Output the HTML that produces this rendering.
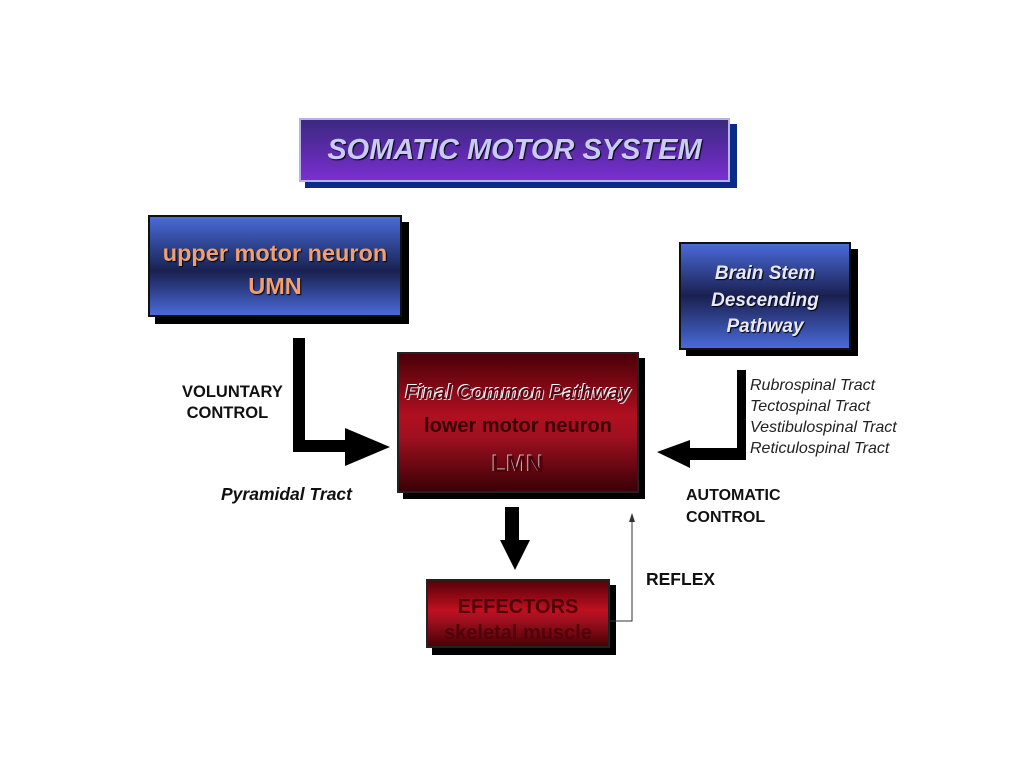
<!DOCTYPE html>
<html><head><style>
body{margin:0;width:1024px;height:767px;background:#fff;position:relative;overflow:hidden;font-family:"Liberation Sans",sans-serif}
.b{position:absolute;box-sizing:border-box;text-align:center;font-weight:bold;white-space:nowrap}
.sh{position:absolute;background:#000}
.t{position:absolute;font-weight:bold;color:#111;white-space:nowrap}
</style></head><body>
<div class="sh" style="left:305px;top:124px;width:432px;height:64px;background:#0a2a8a"></div>
<div class="b" style="left:299px;top:118px;width:431px;height:64px;border:2px solid #b8b0e8;background:linear-gradient(#3a2a80,#5a2aa8 50%,#7a30d0);color:#c8ccf4;font-style:italic;font-size:29px;line-height:60px;text-shadow:1px 1px 1px #000">SOMATIC MOTOR SYSTEM</div>

<div class="sh" style="left:155px;top:222px;width:254px;height:102px"></div>
<div class="b" style="left:148px;top:215px;width:254px;height:102px;border:2px solid #111;background:linear-gradient(#4a6ad8,#20306a 45%,#1a2050 55%,#4a6ad8);color:#f0a070;font-size:23.5px;line-height:33px;padding-top:20px;text-shadow:1px 1px 1px #000">upper motor neuron<br>UMN</div>

<div class="sh" style="left:686px;top:249px;width:172px;height:107px"></div>
<div class="b" style="left:679px;top:242px;width:172px;height:108px;border:2px solid #111;background:linear-gradient(#4a6ad8,#1a2050 50%,#4a6ad8);color:#e8e8f8;font-style:italic;font-size:19px;line-height:26.5px;padding-top:17px;text-shadow:1px 1px 1px #000">Brain Stem<br>Descending<br>Pathway</div>

<div class="sh" style="left:403px;top:358px;width:242px;height:141px"></div>
<div class="b" style="left:397px;top:352px;width:242px;height:141px;border:2px solid #222;background:linear-gradient(#4a0008,#b01020 45%,#a01020 60%,#3a0006);">
<div style="position:absolute;left:-4px;right:-4px;top:28px;font-style:italic;font-size:20px;color:#600010;text-shadow:-1px -1px 0 #fff,1px 1px 0 #ccc">Final Common Pathway</div>
<div style="position:absolute;left:0;right:0;top:61px;font-size:20px;color:#3a0004">lower motor neuron</div>
<div style="position:absolute;left:0;right:0;top:97px;font-size:24px;color:#500008;text-shadow:-1px -1px 0 #bbb">LMN</div>
</div>

<div class="sh" style="left:432px;top:585px;width:184px;height:70px"></div>
<div class="b" style="left:426px;top:579px;width:184px;height:69px;border:2px solid #222;background:linear-gradient(#5a0008,#c01020 45%,#a01020 60%,#4a0006);color:#500008;font-size:20px;line-height:26px;padding-top:13px">EFFECTORS<br>skeletal muscle</div>

<svg style="position:absolute;left:0;top:0" width="1024" height="767">
<path d="M293 338H305V440H345V428L390 447L345 466V452H293Z" fill="#000"/>
<path d="M737 370H746V460H690V468L657 452L690 440V448H737Z" fill="#000"/>
<path d="M505 507H519V540H530L515 570L500 540H505Z" fill="#000"/>
<path d="M610 621H632V518" fill="none" stroke="#333" stroke-width="1"/>
<path d="M629 522L632 513L635 522Z" fill="#333"/>
</svg>

<div class="t" style="left:182px;top:382px;font-size:16.5px;line-height:21px">VOLUNTARY<br>&nbsp;CONTROL</div>
<div class="t" style="left:221px;top:484px;font-size:17.5px;font-style:italic">Pyramidal Tract</div>
<div class="t" style="left:686px;top:485px;font-size:16px;line-height:22px">AUTOMATIC<br>CONTROL</div>
<div class="t" style="left:646px;top:569px;font-size:17.5px">REFLEX</div>
<div class="t" style="left:750px;top:375px;width:151px;overflow:hidden;font-weight:normal;font-style:italic;font-size:16px;line-height:21px;color:#222">Rubrospinal Tract<br>Tectospinal Tract<br>Vestibulospinal Tract<br>Reticulospinal Tract</div>
</body></html>
